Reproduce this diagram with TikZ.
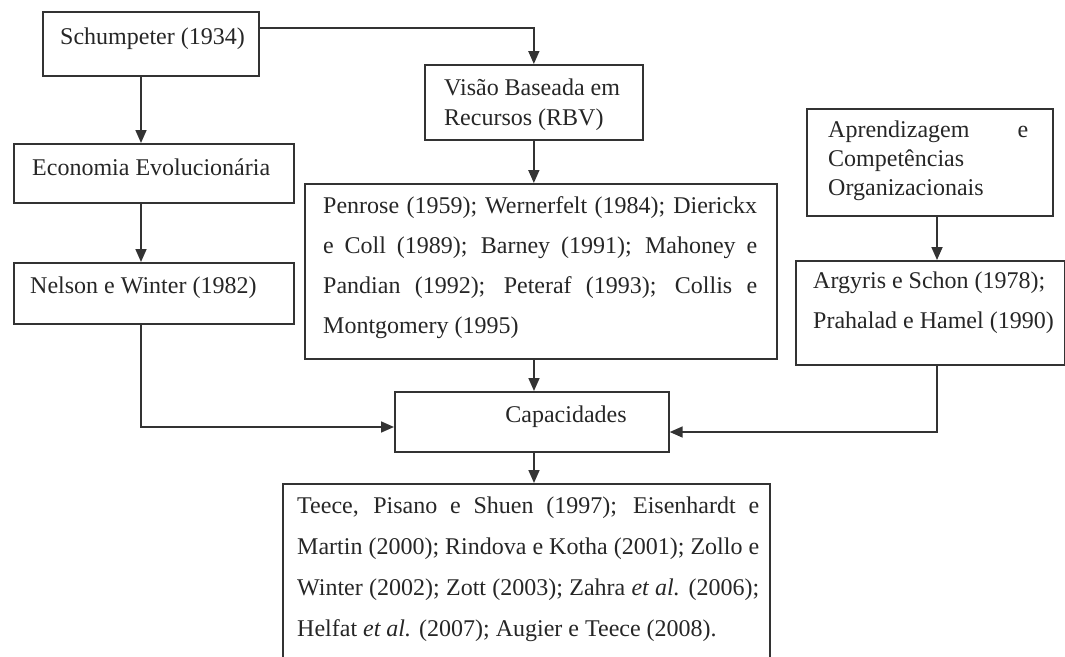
\documentclass[tikz,border=0pt]{standalone}
\usepackage{fontspec}
\setmainfont{Liberation Serif}
\usetikzlibrary{arrows.meta,calc}
\begin{document}
\begin{tikzpicture}[x=1pt,y=-1pt,
  box/.style={draw=black!80, line width=1.7pt, inner sep=0pt, anchor=north west},
  lbl/.style={inner sep=0pt, anchor=base west, align=left,
    font=\fontsize{24}{40}\selectfont, text=black!85},
  conn/.style={draw=black!80, line width=1.7pt},
  arr/.style={conn, -{Triangle[length=13pt,width=11pt]}}]
\useasboundingbox (0,0) rectangle (1065,656);
\clip (0,0) rectangle (1065,656);

% boxes
\node[box, minimum width=216pt, minimum height=64pt]  (schum)   at (42,11)   {};
\node[box, minimum width=280pt, minimum height=59pt]  (econ)    at (13,143)  {};
\node[box, minimum width=280pt, minimum height=61pt]  (nelson)  at (13,262)  {};
\node[box, minimum width=218pt, minimum height=75pt]  (visao)   at (424,64)  {};
\node[box, minimum width=472pt, minimum height=175pt] (penrose) at (304,183) {};
\node[box, minimum width=274pt, minimum height=60pt]  (capac)   at (394,391) {};
\node[box, minimum width=246pt, minimum height=107pt] (aprend)  at (806,108) {};
\node[box, minimum width=269pt, minimum height=104pt] (argy)    at (795,260) {};
\node[box, minimum width=487pt, minimum height=200pt] (teece)   at (282,483) {};

% texts (anchored at the baseline of their last line)
\node[lbl] (tschum) at (60,44) {Schumpeter (1934)};
\node[lbl] (tecon) at (32,175) {Economia Evolucionária};
\node[lbl] (tnelson) at (30,293) {Nelson e Winter (1982)};
\node[lbl, font=\fontsize{24}{30}\selectfont] (tvisao) at (444,125)
  {Visão Baseada em\\Recursos (RBV)};
\node[lbl] (tpenrose) at (323,333) {%
  \makebox[434pt][s]{Penrose (1959); Wernerfelt (1984); Dierickx}\\
  \makebox[434pt][s]{e Coll (1989); Barney (1991); Mahoney e}\\
  \makebox[434pt][s]{Pandian (1992); Peteraf (1993); Collis e}\\
  Montgomery (1995)};
\node[lbl, anchor=base] (tcapac) at (566,422) {Capacidades};
\node[lbl, font=\fontsize{24}{29}\selectfont] (taprend) at (828,195) {%
  \makebox[200pt][s]{Aprendizagem e}\\
  Competências\\
  Organizacionais};
\node[lbl] (targy) at (813,328) {Argyris e Schon (1978);\\Prahalad e Hamel (1990)};
\node[lbl, font=\fontsize{24}{41}\selectfont] (tteece) at (297,636) {%
  \makebox[462pt][s]{Teece, Pisano e Shuen (1997); Eisenhardt e}\\
  \makebox[462pt][s]{Martin (2000); Rindova e Kotha (2001); Zollo e}\\
  \makebox[462pt][s]{Winter (2002); Zott (2003); Zahra \textit{et al.} (2006);}\\
  Helfat \textit{et al.} (2007); Augier e Teece (2008).};

% connectors
\coordinate (xl) at (141,0);
\coordinate (xm) at (534,0);
\coordinate (xr) at (937,0);
\coordinate (yl) at (0,427);
\coordinate (yr) at (0,432);
\draw[arr] ($(schum.north east)+(0,17)$) -| (visao.north);
\draw[arr] (schum.south -| xl) -- (econ.north -| xl);
\draw[arr] (econ.south -| xl) -- (nelson.north -| xl);
\draw[arr] (nelson.south -| xl) |- (capac.west |- yl);
\draw[arr] (visao.south) -- (penrose.north -| visao.south);
\draw[arr] (penrose.south -| xm) -- (capac.north -| xm);
\draw[arr] (capac.south -| xm) -- (teece.north -| xm);
\draw[arr] (aprend.south -| xr) -- (argy.north -| xr);
\draw[arr] (argy.south -| xr) |- (capac.east |- yr);
\end{tikzpicture}
\end{document}
